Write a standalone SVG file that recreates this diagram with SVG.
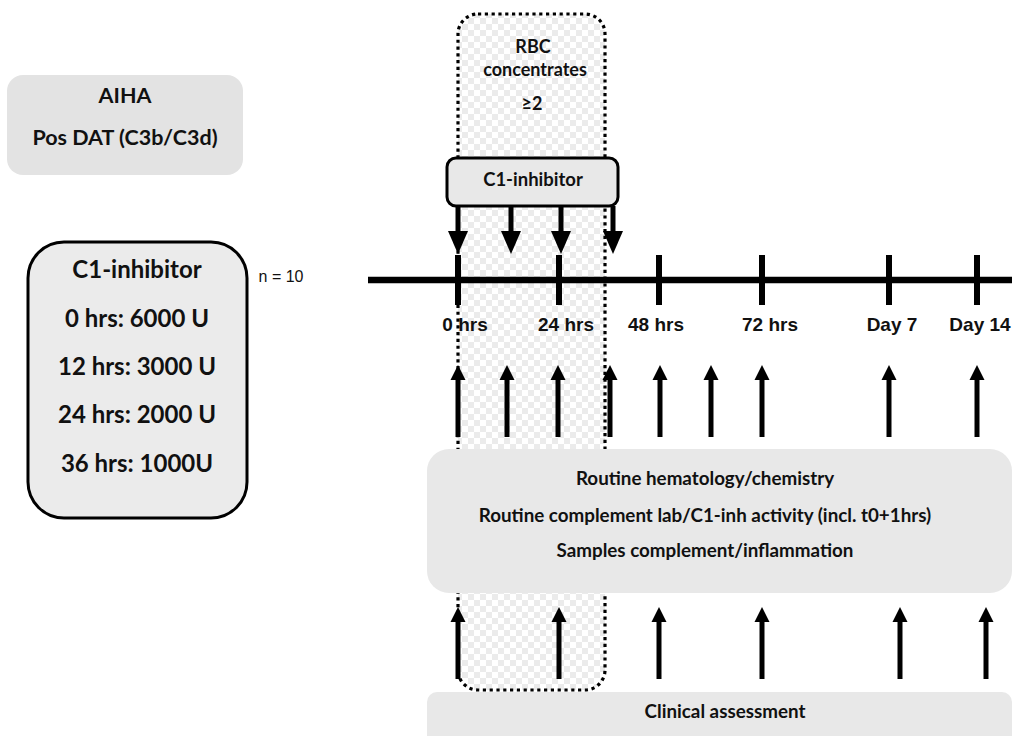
<svg xmlns="http://www.w3.org/2000/svg" width="1012" height="736" viewBox="0 0 1012 736">
  <defs>
    <pattern id="checker" x="0" y="0" width="12" height="12" patternUnits="userSpaceOnUse">
      <rect width="12" height="12" fill="#ebebeb"/>
      <rect x="0" y="0" width="6" height="6" fill="#ffffff"/>
      <rect x="6" y="6" width="6" height="6" fill="#ffffff"/>
    </pattern>
    <marker id="headUp" markerUnits="userSpaceOnUse" markerWidth="15" markerHeight="16" refX="0" refY="7.5" orient="auto" viewBox="0 0 15 15">
      <path d="M0,0 L15,7.5 L0,15 z" fill="#000"/>
    </marker>
    <marker id="headDown" markerUnits="userSpaceOnUse" markerWidth="23" markerHeight="20" refX="0" refY="10" orient="auto" viewBox="0 0 23 20">
      <path d="M0,0 L23,10 L0,20 z" fill="#000"/>
    </marker>
  </defs>
  <style>
    .cal { font-family: Lato, "Open Sans", "Liberation Sans", sans-serif; font-weight: bold; fill: #111; text-anchor: middle; }
    .ari { font-family: "Liberation Sans", Arial, sans-serif; font-weight: bold; fill: #111; text-anchor: middle; font-size: 19px; }
    .grey { fill: #e8e8e8; }
    .up { stroke: #000; stroke-width: 5; fill: none; marker-end: url(#headUp); }
    .down { stroke: #000; stroke-width: 5; fill: none; marker-end: url(#headDown); }
    .tick { stroke: #000; stroke-width: 6; }
    .dots { fill: none; stroke: #000; stroke-width: 3.2; stroke-dasharray: 3.2 3.6; }
  </style>

  <!-- RBC period fill (behind) -->
  <g id="rbc-period">
    <rect x="458" y="14" width="147" height="676" rx="20" fill="url(#checker)"/>
    <text class="cal" x="533" y="53" font-size="18">RBC</text>
    <text class="cal" x="535" y="76" font-size="18">concentrates</text>
    <text class="cal" x="532" y="110" font-size="18">≥2</text>
  </g>

  <!-- AIHA -->
  <g id="aiha">
    <rect x="7" y="75" width="236" height="100" rx="16" fill="#e3e3e3"/>
    <text class="cal" x="125" y="103" font-size="21.5">AIHA</text>
    <text class="cal" x="125" y="145" font-size="21.5">Pos DAT (C3b/C3d)</text>
  </g>

  <!-- C1-inhibitor dosing box -->
  <g id="c1-dosing">
    <rect x="28" y="242" width="219" height="276" rx="36" fill="#ebebeb" stroke="#000" stroke-width="3"/>
    <text class="cal" x="137" y="278" font-size="24">C1-inhibitor</text>
    <text class="cal" x="137" y="327" font-size="24">0 hrs: 6000 U</text>
    <text class="cal" x="137" y="375" font-size="24">12 hrs: 3000 U</text>
    <text class="cal" x="137" y="423" font-size="24">24 hrs: 2000 U</text>
    <text class="cal" x="137" y="472" font-size="24">36 hrs: 1000U</text>
  </g>
  <g id="n-label">
    <text x="281" y="282" font-family="Liberation Sans, Arial, sans-serif" font-size="16" fill="#111" text-anchor="middle">n = 10</text>
  </g>

  <!-- Timeline -->
  <g id="timeline">
    <line x1="368" y1="280" x2="1012" y2="280" stroke="#000" stroke-width="6.5"/>
    <line class="tick" x1="458" y1="255" x2="458" y2="305"/>
    <line class="tick" x1="559" y1="255" x2="559" y2="305"/>
    <line class="tick" x1="659" y1="255" x2="659" y2="305"/>
    <line class="tick" x1="762" y1="255" x2="762" y2="305"/>
    <line class="tick" x1="889" y1="255" x2="889" y2="305"/>
    <line class="tick" x1="977" y1="255" x2="977" y2="305"/>
    <text class="ari" x="465" y="331">0 hrs</text>
    <text class="ari" x="566" y="331">24 hrs</text>
    <text class="ari" x="656" y="331">48 hrs</text>
    <text class="ari" x="770" y="331">72 hrs</text>
    <text class="ari" x="892" y="331">Day 7</text>
    <text class="ari" x="980" y="331">Day 14</text>
  </g>

  <!-- Connectors (arrows) -->
  <g id="connectors">
    <line class="down" x1="458" y1="206" x2="458" y2="231"/>
    <line class="down" x1="511" y1="206" x2="511" y2="231"/>
    <line class="down" x1="561" y1="206" x2="561" y2="231"/>
    <line class="down" x1="613" y1="206" x2="613" y2="231"/>

    <line class="up" x1="458" y1="437" x2="458" y2="380"/>
    <line class="up" x1="507" y1="437" x2="507" y2="380"/>
    <line class="up" x1="558" y1="437" x2="558" y2="380"/>
    <line class="up" x1="610" y1="437" x2="610" y2="380"/>
    <line class="up" x1="660" y1="437" x2="660" y2="380"/>
    <line class="up" x1="711" y1="437" x2="711" y2="380"/>
    <line class="up" x1="762" y1="437" x2="762" y2="380"/>
    <line class="up" x1="889" y1="437" x2="889" y2="380"/>
    <line class="up" x1="977" y1="437" x2="977" y2="380"/>

    <line class="up" x1="458" y1="679" x2="458" y2="622"/>
    <line class="up" x1="559" y1="679" x2="559" y2="622"/>
    <line class="up" x1="659" y1="679" x2="659" y2="622"/>
    <line class="up" x1="762" y1="679" x2="762" y2="622"/>
    <line class="up" x1="900" y1="679" x2="900" y2="622"/>
    <line class="up" x1="986" y1="679" x2="986" y2="622"/>
  </g>

  <!-- RBC period dotted outline (on top of arrows) -->
  <g id="rbc-outline">
    <rect class="dots" x="458" y="14" width="147" height="676" rx="20"/>
  </g>

  <!-- C1-inhibitor administration box -->
  <g id="c1-admin">
    <rect x="447" y="158" width="171" height="48" rx="9" fill="#e8e8e8" stroke="#000" stroke-width="3"/>
    <text class="cal" x="533" y="186" font-size="18.5">C1-inhibitor</text>
  </g>

  <!-- Lab box -->
  <g id="lab">
    <rect class="grey" x="427" y="449" width="585" height="144" rx="22"/>
    <text class="cal" x="705" y="485" font-size="18.8">Routine hematology/chemistry</text>
    <text class="cal" x="705" y="522" font-size="18.8">Routine complement lab/C1-inh activity (incl. t0+1hrs)</text>
    <text class="cal" x="705" y="557" font-size="18.8">Samples complement/inflammation</text>
  </g>

  <!-- Clinical assessment -->
  <g id="clinical">
    <rect class="grey" x="427" y="692" width="585" height="60" rx="10"/>
    <text class="cal" x="725" y="718" font-size="18.8">Clinical assessment</text>
  </g>
</svg>
